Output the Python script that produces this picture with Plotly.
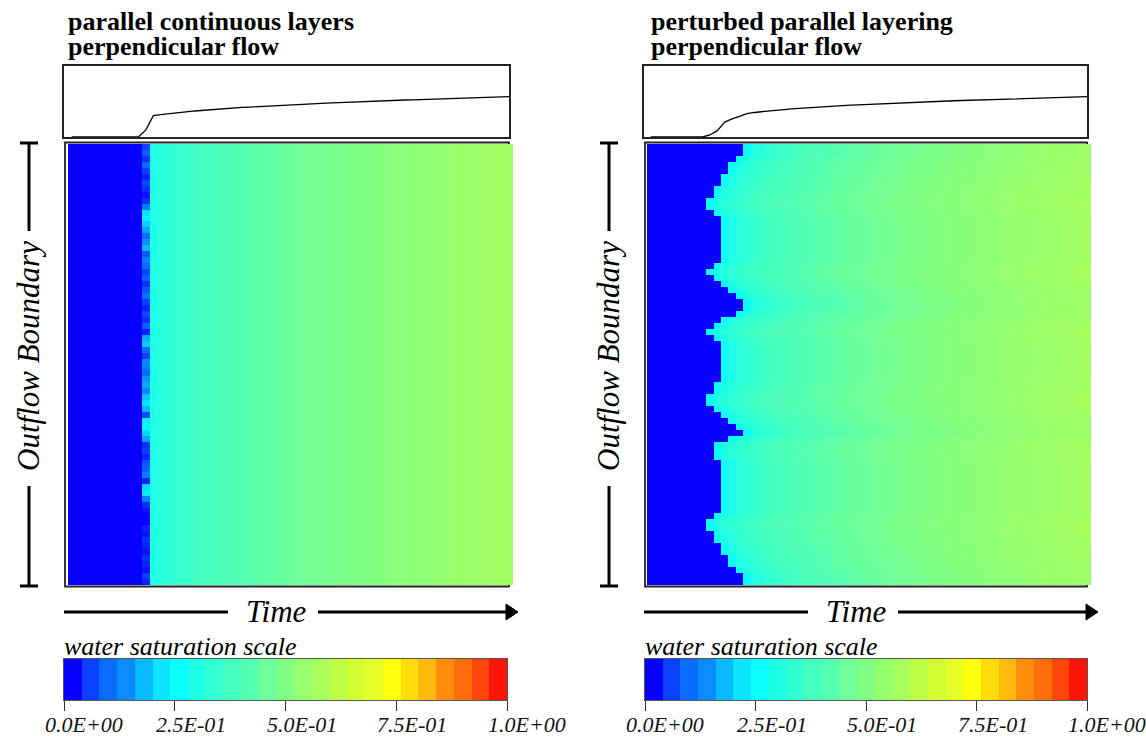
import numpy as np
import plotly.graph_objects as go

W, H = 1146, 736
FONT = "Liberation Serif"

# ---------------- data ----------------
# 25 discrete colour bands of the water-saturation scale (0 .. 1, step 0.04)
band_colors = [
    "#0800ff", "#0a40ff", "#0a6cff", "#0a8cff", "#0ab8ff",
    "#0ae4ff", "#0affff", "#1effe4", "#32ffd2", "#46ffbe",
    "#55ffb0", "#6eff9a", "#80ff82", "#96ff6e", "#a8ff5c",
    "#beff46", "#d2ff32", "#e6ff28", "#ffff0a", "#ffdc0a",
    "#ffb90a", "#ff8c0a", "#ff6e0a", "#ff460a", "#ff140a",
]
cbar_tickvals = [0.0, 0.25, 0.5, 0.75, 1.0]
cbar_ticktext = ["0.0E+00", "2.5E-01", "5.0E-01", "7.5E-01", "1.0E+00"]

panel_titles = [
    ["parallel continuous layers", "perpendicular flow"],
    ["perturbed parallel layering", "perpendicular flow"],
]
side_label = "Outflow Boundary"
time_label = "Time"
scale_label = "water saturation scale"

n_cols = 60           # time steps (columns)
left_blue_cols = 10   # columns still dry (saturation 0) in the left panel

# saturation of the breakthrough column, per row (left panel, top -> bottom)
left_front_vals = [
    0.06, 0.09, 0.05, 0.10, 0.06, 0.04, 0.07, 0.05, 0.03, 0.05,
    0.12, 0.22, 0.24, 0.20, 0.16, 0.10, 0.14, 0.18, 0.08, 0.12,
    0.10, 0.06, 0.09, 0.05, 0.08, 0.11, 0.06, 0.04, 0.07, 0.05,
    0.09, 0.04, 0.17, 0.20, 0.10, 0.06, 0.14, 0.12, 0.10, 0.15,
    0.17, 0.13, 0.19, 0.22, 0.18, 0.07, 0.24, 0.25, 0.21, 0.16,
    0.05, 0.06, 0.04, 0.08, 0.09, 0.12, 0.04, 0.21, 0.23, 0.13,
    0.05, 0.03, 0.02, 0.02, 0.04, 0.03, 0.05, 0.04, 0.03, 0.05,
    0.04, 0.03, 0.06, 0.04,
]
# saturation behind the front, left panel (columns 11 .. 59)
left_profile = [
    0.300, 0.316, 0.329, 0.341, 0.351, 0.361, 0.370, 0.379, 0.387, 0.395,
    0.402, 0.409, 0.416, 0.422, 0.428, 0.434, 0.440, 0.445, 0.451, 0.456,
    0.461, 0.466, 0.471, 0.475, 0.480, 0.484, 0.489, 0.493, 0.497, 0.501,
    0.505, 0.509, 0.513, 0.517, 0.521, 0.524, 0.528, 0.531, 0.535, 0.538,
    0.542, 0.545, 0.549, 0.552, 0.555, 0.559, 0.562, 0.566, 0.569,
]
# first wetted column per row, right panel (top -> bottom)
right_front_col = [
    13, 13, 12, 11, 11, 10, 10, 9, 9, 8,
    8, 9, 10, 10, 10, 10, 10, 10, 10, 10,
    9, 8, 9, 10, 11, 12, 13, 13, 12, 10,
    9, 8, 9, 10, 10, 10, 10, 10, 10, 10,
    9, 9, 8, 8, 9, 10, 11, 12, 13, 11,
    9, 9, 9, 10, 10, 10, 10, 10, 10, 10,
    10, 10, 9, 8, 8, 9, 9, 10, 10, 11,
    11, 12, 13, 13,
]
# saturation behind the front, right panel (columns after the front)
right_profile = [
    0.265, 0.300, 0.320, 0.335, 0.348, 0.360, 0.370, 0.379, 0.388, 0.396,
    0.404, 0.411, 0.418, 0.425, 0.431, 0.437, 0.443, 0.449, 0.454, 0.459,
    0.464, 0.469, 0.474, 0.478, 0.483, 0.487, 0.491, 0.495, 0.499, 0.503,
    0.507, 0.511, 0.514, 0.518, 0.521, 0.525, 0.528, 0.531, 0.535, 0.538,
    0.541, 0.544, 0.547, 0.550, 0.553, 0.556, 0.559, 0.562, 0.565, 0.568,
    0.571, 0.574,
]

# ---------------- tables built from the data ----------------
z_left = [[0.0] * left_blue_cols + [fv] + left_profile for fv in left_front_vals]
z_right = [[0.0] * f + right_profile[: n_cols - f] for f in right_front_col]
cols = list(range(n_cols))
mean_left = np.array(z_left).mean(axis=0)
mean_right = np.array(z_right).mean(axis=0)

colorscale = [[0.0, band_colors[0]]]
for i, c in enumerate(band_colors):
    colorscale.append([0.02 + 0.04 * i, c])
colorscale.append([1.0, band_colors[-1]])
band_centers = [0.02 + 0.04 * i for i in range(len(band_colors))]


# ---------------- layout helpers ----------------
def px(x):
    return x / W


def py(y):
    return 1 - y / H


panels = [
    dict(z=z_left, mean=mean_left,
         line_box=(64, 509), heat=(68, 513), cbar=(64, 507),
         bracket_x=29, title_x=66, time_cx=276, arrow=(64, 228, 318, 518)),
    dict(z=z_right, mean=mean_right,
         line_box=(644, 1087), heat=(647, 1091), cbar=(645, 1087),
         bracket_x=609, title_x=649, time_cx=856, arrow=(644, 808, 898, 1098)),
]

fig = go.Figure()
layout = dict(
    width=W, height=H, margin=dict(l=0, r=0, t=0, b=0, pad=0, autoexpand=False),
    paper_bgcolor="white", plot_bgcolor="rgba(0,0,0,0)",
    showlegend=False, font=dict(family=FONT, color="black"),
)
shapes, annotations = [], []

LINE_Y = (66, 137)
HEAT_Y = (144, 585)
CBAR_Y = (659, 700)

common = dict(showgrid=False, zeroline=False, automargin=False)

ax = 1
for p_i, p in enumerate(panels):
    hx0, hx1 = p["heat"]
    s = (hx1 - hx0) / n_cols
    lx0, lx1 = p["line_box"]
    lo = -0.5 + (lx0 - hx0) / s
    hi = n_cols - 0.5 + (lx1 - hx1) / s

    # --- line plot (column mean saturation) ---
    xa, ya = ax, ax + 1
    fig.add_trace(go.Scatter(x=cols, y=p["mean"], mode="lines",
                             line=dict(color="black", width=1.3),
                             xaxis=f"x{xa}", yaxis=f"y{ya}", hoverinfo="skip"))
    layout[f"xaxis{xa}"] = dict(domain=[px(lx0), px(lx1)], range=[lo, hi],
                                anchor=f"y{ya}", showticklabels=False, ticks="",
                                showline=True, mirror=True, linecolor="#222",
                                linewidth=1.6, **common)
    layout[f"yaxis{ya}"] = dict(domain=[py(LINE_Y[1]), py(LINE_Y[0])], range=[0, 1],
                                anchor=f"x{xa}", showticklabels=False, ticks="",
                                showline=True, mirror=True, linecolor="#222",
                                linewidth=1.6, **common)
    ax += 2

    # --- heatmap ---
    xa, ya = ax, ax + 1
    nrows = len(p["z"])
    fig.add_trace(go.Heatmap(z=p["z"], x=cols, y=list(range(nrows)),
                             colorscale=colorscale, zmin=0, zmax=1,
                             showscale=False, zsmooth=False, hoverinfo="skip",
                             xaxis=f"x{xa}", yaxis=f"y{ya}"))
    layout[f"xaxis{xa}"] = dict(domain=[px(hx0), px(hx1)], range=[-0.5, n_cols - 0.5],
                                anchor=f"y{ya}", visible=False, **common)
    layout[f"yaxis{ya}"] = dict(domain=[py(HEAT_Y[1]), py(HEAT_Y[0])],
                                range=[nrows - 0.5, -0.5], anchor=f"x{xa}",
                                visible=False, **common)
    shapes.append(dict(type="rect", xref="paper", yref="paper", layer="below",
                       x0=px(lx0 + 1), x1=px(lx1), y0=py(586.5), y1=py(142.5),
                       line=dict(color="#222", width=1.8), fillcolor="rgba(0,0,0,0)"))
    ax += 2

    # --- colour scale bar ---
    cx0, cx1 = p["cbar"]
    xa, ya = ax, ax + 1
    fig.add_trace(go.Heatmap(z=[band_centers], x=band_centers, y=[0],
                             colorscale=colorscale, zmin=0, zmax=1,
                             showscale=False, zsmooth=False, hoverinfo="skip",
                             xaxis=f"x{xa}", yaxis=f"y{ya}"))
    layout[f"xaxis{xa}"] = dict(domain=[px(cx0), px(cx1)], range=[0, 1],
                                anchor=f"y{ya}", tickvals=cbar_tickvals,
                                showticklabels=False, ticks="outside", ticklen=10,
                                tickwidth=1.2, tickcolor="#333",
                                showline=True, mirror=True, linecolor="#555",
                                linewidth=1.2, **common)
    layout[f"yaxis{ya}"] = dict(domain=[py(CBAR_Y[1]), py(CBAR_Y[0])], range=[-0.5, 0.5],
                                anchor=f"x{xa}", showticklabels=False, ticks="",
                                showline=True, mirror=True, linecolor="#555",
                                linewidth=1.2, **common)
    # tick labels: left edge sits 20 px before each tick
    for tv, tt in zip(cbar_tickvals, cbar_ticktext):
        annotations.append(dict(text=tt, x=tv, xref=f"x{xa}", y=py(724), yref="paper",
                                xanchor="left", yanchor="middle", xshift=-21,
                                showarrow=False,
                                font=dict(family=FONT, size=22, style="italic",
                                          color="#111")))
    ax += 2

    # --- titles ---
    for t, yc in zip(panel_titles[p_i], (21.5, 46.5)):
        annotations.append(dict(text=f"<b>{t}</b>", x=px(p["title_x"]), y=py(yc),
                                xref="paper", yref="paper", xanchor="left",
                                yanchor="middle", showarrow=False,
                                font=dict(family=FONT, size=26, color="black")))

    # --- Outflow Boundary bracket ---
    bx = p["bracket_x"]
    for y0, y1 in ((143, 231), (486, 586)):
        shapes.append(dict(type="line", xref="paper", yref="paper",
                           x0=px(bx), x1=px(bx), y0=py(y0), y1=py(y1),
                           line=dict(color="black", width=3)))
    for yy in (143, 586):
        shapes.append(dict(type="line", xref="paper", yref="paper",
                           x0=px(bx - 9), x1=px(bx + 9), y0=py(yy), y1=py(yy),
                           line=dict(color="black", width=3)))
    annotations.append(dict(text=side_label, x=px(bx - 1), y=py(356), xref="paper",
                            yref="paper", xanchor="center", yanchor="middle",
                            textangle=-90, showarrow=False,
                            font=dict(family=FONT, size=31, style="italic",
                                      color="black")))

    # --- Time arrow ---
    a0, a1, a2, tip = p["arrow"]
    ty = 612
    shapes.append(dict(type="line", xref="paper", yref="paper",
                       x0=px(a0), x1=px(a1), y0=py(ty), y1=py(ty),
                       line=dict(color="black", width=3)))
    shapes.append(dict(type="line", xref="paper", yref="paper",
                       x0=px(a2), x1=px(tip - 10), y0=py(ty), y1=py(ty),
                       line=dict(color="black", width=3)))
    shapes.append(dict(type="path", xref="paper", yref="paper",
                       path=f"M {px(tip - 12)} {py(ty - 8)} L {px(tip)} {py(ty)} "
                            f"L {px(tip - 12)} {py(ty + 8)} Z",
                       fillcolor="black", line=dict(color="black", width=1)))
    annotations.append(dict(text=time_label, x=px(p["time_cx"]), y=py(ty - 1),
                            xref="paper", yref="paper", xanchor="center",
                            yanchor="middle", showarrow=False,
                            font=dict(family=FONT, size=31, style="italic",
                                      color="black")))

    # --- scale label ---
    annotations.append(dict(text=scale_label, x=px(cx0 - 2), y=py(646), xref="paper",
                            yref="paper", xanchor="left", yanchor="middle",
                            showarrow=False,
                            font=dict(family=FONT, size=26, style="italic",
                                      color="black")))

layout["shapes"] = shapes
layout["annotations"] = annotations
fig.update_layout(**layout)
fig.write_html("out.html", config={"displayModeBar": False},
               post_script="document.body.style.margin='0';"
                           "document.body.style.padding='0';")
